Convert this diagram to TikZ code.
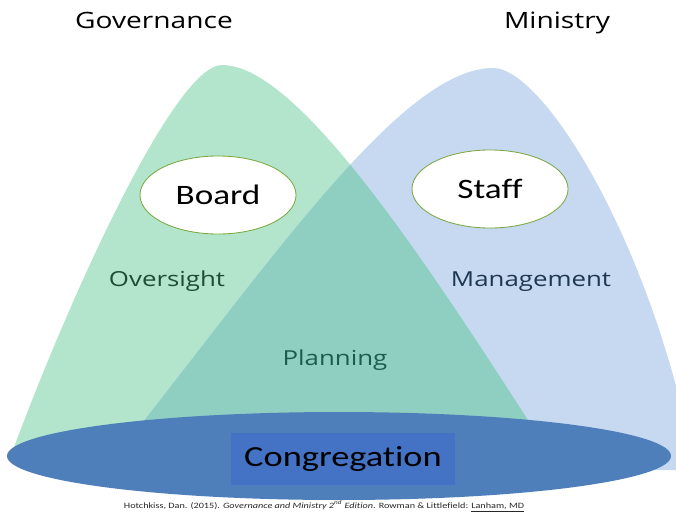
\documentclass[tikz,border=0pt]{standalone}
\usepackage{fontspec}
\setmainfont{Carlito}[FakeStretch=1.25,RawFeature=-liga]
\newfontfamily\labelfont{Open Sans}[FakeStretch=1.25]
\usetikzlibrary{shapes}

\definecolor{govgreen}{HTML}{B3E5CD}
\definecolor{minblue}{HTML}{C6D9F1}
\definecolor{overlapteal}{HTML}{8ECFC1}
\definecolor{congblue}{HTML}{4E7FBB}
\definecolor{boxblue}{HTML}{4472C4}
\definecolor{ovalline}{HTML}{7AA83F}

\def\govpath{(10,458) .. controls (70,295) and (175,65) .. (222,65) .. controls (300,65) and (432,270) .. (560,470) -- cycle}
\def\minpath{(105,470) .. controls (265,270) and (400,68) .. (493,68) .. controls (545,68) and (655,250) .. (695,470) -- cycle}

\begin{document}
\begin{tikzpicture}[x=0.025cm,y=-0.025cm,
  header/.style={anchor=base,font=\labelfont\fontsize{16}{19}\selectfont,text=black},
  arealabel/.style={anchor=base,font=\labelfont\fontsize{14.7}{18}\selectfont},
  roleoval/.style={shape=ellipse,draw=ovalline,fill=white,line width=0.6pt,minimum width=3.9cm,minimum height=1.95cm,font=\fontsize{20}{24}\selectfont}]
\clip (0,0) rectangle (676,512);
\fill[white] (0,0) rectangle (676,512);

% the two areas and their overlap
\fill[govgreen] \govpath;
\fill[minblue] \minpath;
\begin{scope}
\clip \govpath;
\fill[overlapteal] \minpath;
\end{scope}

% base
\fill[congblue] (339,456) ellipse [x radius=332, y radius=44];
\node[shape=rectangle,fill=boxblue,minimum width=5.575cm,minimum height=1.3cm,font=\fontsize{20.7}{24}\selectfont] (congregation) at (343,459) {Congregation};

\node[roleoval] (board) at (218,195) {Board};
\node[roleoval] (staff) at (490,189) {Staff};

\node[header] (governance) at (154,29) {Governance};
\node[header] (ministry) at (557,29) {Ministry};

\node[arealabel,text={rgb,255:red,29;green,77;blue,54}] (oversight) at (167,286) {Oversight};
\node[arealabel,text={rgb,255:red,31;green,54;blue,81}] (management) at (531,286) {Management};
\node[arealabel,text={rgb,255:red,30;green,91;blue,78}] (planning) at (335,365) {Planning};

\node[anchor=base,font=\fontsize{5.8}{7}\selectfont,text={rgb,255:red,40;green,40;blue,40}] (citation) at (324,508) {Hotchkiss, Dan. (2015). \textit{Governance and Ministry 2\textsuperscript{nd} Edition}. Rowman \& Littlefield: \underline{Lanham, MD}};
\end{tikzpicture}
\end{document}
